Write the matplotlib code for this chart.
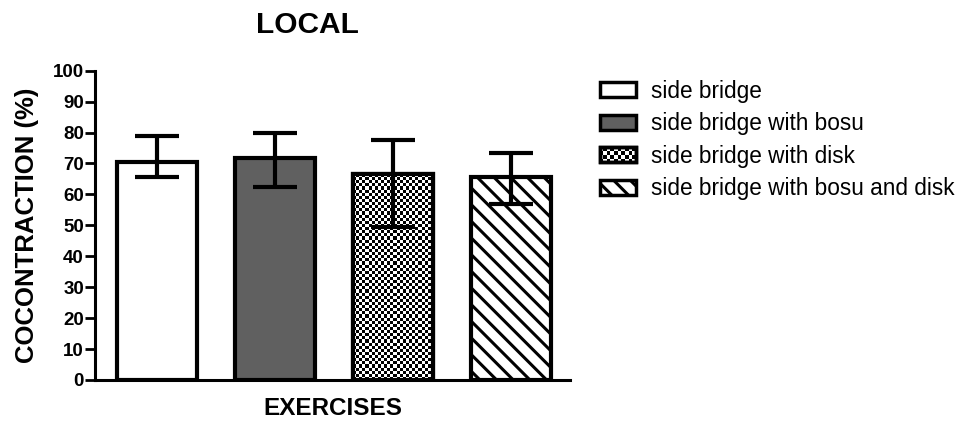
import numpy as np
import matplotlib
matplotlib.use("Agg")
import matplotlib.pyplot as plt
from matplotlib.patches import Rectangle
from matplotlib.collections import PatchCollection
from matplotlib.legend_handler import HandlerBase

plt.rcParams['font.family'] = ['Liberation Sans', 'DejaVu Sans']
plt.rcParams['hatch.linewidth'] = 2.2

# Data
exercises = ["side bridge", "side bridge with bosu",
             "side bridge with disk", "side bridge with bosu and disk"]
means = [70.6, 71.7, 66.5, 65.5]
err_high = [79.0, 80.0, 77.6, 73.3]
err_low = [65.6, 62.5, 49.6, 56.8]
y_ticks = [0, 10, 20, 30, 40, 50, 60, 70, 80, 90, 100]

styles = [
    dict(face="white", hatch=None, checker=False),
    dict(face="#606060", hatch=None, checker=False),
    dict(face="white", hatch=None, checker=True),
    dict(face="white", hatch="\\\\", checker=False),
]

fig = plt.figure(figsize=(9.61, 4.23), dpi=100)
ax = fig.add_axes([0.0989, 0.1017, 0.4944, 0.7312])

x = np.arange(len(means))
width = 0.68
edge_lw = 3.0

bars = ax.bar(x, means, width=width, color=[s["face"] for s in styles],
              edgecolor="black", linewidth=edge_lw, zorder=2)
for b, s in zip(bars, styles):
    if s["hatch"]:
        b.set_hatch(s["hatch"])
    if s["checker"]:
        x0, y0 = b.get_x(), b.get_y()
        w, h = b.get_width(), b.get_height()
        nx = 26
        ny = int(round(h / 1.0))
        board = (np.add.outer(np.arange(ny), np.arange(nx)) % 2).astype(float)
        im = ax.imshow(board, cmap="gray", interpolation="nearest", aspect="auto",
                       extent=(x0, x0 + w, y0, y0 + h), zorder=2.1, origin="lower")
        im.set_clip_path(b)
        # outline on top of the pattern
        ax.add_patch(Rectangle((x0, y0), w, h, fill=False, edgecolor="black",
                               linewidth=edge_lw, zorder=2.2))

yerr = np.array([np.array(means) - np.array(err_low),
                 np.array(err_high) - np.array(means)])
ax.errorbar(x, means, yerr=yerr, fmt="none", ecolor="black", elinewidth=3,
            capsize=15.5, capthick=3, zorder=3)

ax.set_xlim(-0.525, 3.5)
ax.set_ylim(0, 100)
ax.set_yticks(y_ticks)
ax.set_yticklabels([str(t) for t in y_ticks], fontsize=13.5, fontweight="bold")
ax.set_xticks([])
ax.tick_params(axis="y", direction="out", length=7, width=2, pad=1)
for side in ("top", "right"):
    ax.spines[side].set_visible(False)
for side in ("left", "bottom"):
    ax.spines[side].set_linewidth(2.2)

ax.set_ylabel("COCONTRACTION (%)", fontsize=18.5, fontweight="bold", labelpad=10)
fig.text(0.3465, 0.008, "EXERCISES", ha="center", va="bottom",
         fontsize=17.5, fontweight="bold")
fig.text(0.3195, 0.942, "LOCAL", ha="center", va="center",
         fontsize=21.5, fontweight="bold")


class CheckerHandler(HandlerBase):
    def create_artists(self, legend, orig_handle, xdescent, ydescent,
                       width, height, fontsize, trans):
        cells = []
        nx, ny = 10, 4
        cw, ch = width / nx, height / ny
        for i in range(nx):
            for j in range(ny):
                if (i + j) % 2 == 0:
                    cells.append(Rectangle((-xdescent + i * cw, -ydescent + j * ch), cw, ch))
        pc = PatchCollection(cells, facecolor="black", edgecolor="none",
                             transform=trans)
        frame = Rectangle((-xdescent, -ydescent), width, height, facecolor="white",
                          edgecolor="black", linewidth=2.5, transform=trans)
        frame2 = Rectangle((-xdescent, -ydescent), width, height, fill=False,
                           edgecolor="black", linewidth=2.5, transform=trans)
        return [frame, pc, frame2]


handles = []
for s in styles:
    p = Rectangle((0, 0), 1, 1, facecolor=s["face"], edgecolor="black",
                  linewidth=2.5, hatch=s["hatch"])
    handles.append(p)

leg = fig.legend(handles, exercises, loc="upper left",
                 bbox_to_anchor=(0.6145, 0.833), frameon=False,
                 prop=dict(size=16.3), handlelength=1.6, handleheight=0.65,
                 handletextpad=0.65, labelspacing=0.42, borderaxespad=0,
                 handler_map={handles[2]: CheckerHandler()})

fig.savefig("out.png", dpi=100)
